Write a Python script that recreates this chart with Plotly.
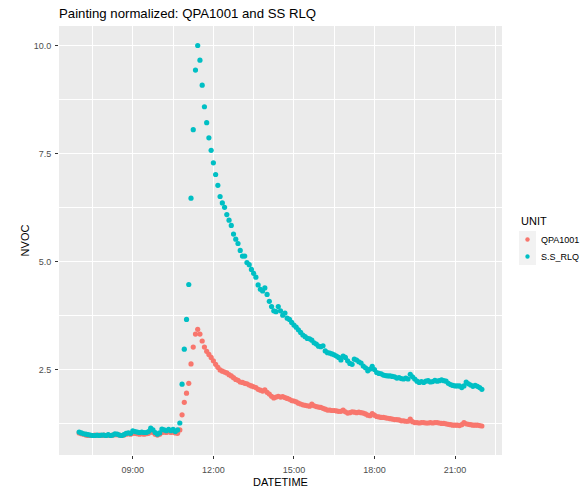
import pandas as pd
import plotly.graph_objects as go

# ---- data (5-minute readings, 07:00 .. 22:00) ----
start_time = "2016-01-01 07:00"
n_points = 181
times = pd.date_range(start_time, periods=n_points, freq="5min")

qpa1001 = [
    # 07:00 - 07:55
    1.03, 1.01, 1.00, 0.98, 0.97, 0.97, 0.97, 0.98, 0.97, 0.98, 0.97, 0.98,
    # 08:00 - 08:55
    0.97, 0.98, 0.97, 0.98, 0.99, 0.99, 0.98, 0.97, 0.98, 1.00, 1.01, 1.00,
    # 09:00 - 09:55
    1.02, 1.02, 1.01, 1.00, 1.01, 1.00, 1.01, 1.02, 1.06, 1.04, 1.00, 0.98,
    # 10:00 - 10:55
    1.00, 1.04, 1.05, 1.04, 1.06, 1.04, 1.05, 1.03, 1.02, 1.10, 1.45, 1.74,
    # 11:00 - 11:55
    1.95, 2.18, 2.63, 3.02, 3.32, 3.43, 3.32, 3.16, 3.02, 2.92, 2.85, 2.78,
    # 12:00 - 12:55
    2.70, 2.62, 2.55, 2.49, 2.46, 2.44, 2.42, 2.38, 2.35, 2.31, 2.27, 2.25,
    # 13:00 - 13:55
    2.21, 2.20, 2.18, 2.17, 2.14, 2.12, 2.10, 2.08, 2.04, 2.02, 2.00, 2.03,
    # 14:00 - 14:55
    1.97, 1.93, 1.88, 1.84, 1.86, 1.88, 1.86, 1.87, 1.85, 1.83, 1.81, 1.78,
    # 15:00 - 15:55
    1.77, 1.75, 1.72, 1.70, 1.68, 1.67, 1.66, 1.65, 1.70, 1.66, 1.64, 1.63,
    # 16:00 - 16:55
    1.62, 1.60, 1.58, 1.56, 1.56, 1.55, 1.55, 1.54, 1.53, 1.53, 1.56, 1.52,
    # 17:00 - 17:55
    1.49, 1.50, 1.52, 1.51, 1.50, 1.51, 1.50, 1.49, 1.47, 1.44, 1.43, 1.48,
    # 18:00 - 18:55
    1.44, 1.41, 1.40, 1.39, 1.39, 1.38, 1.37, 1.36, 1.35, 1.34, 1.34, 1.33,
    # 19:00 - 19:55
    1.31, 1.31, 1.30, 1.30, 1.35, 1.29, 1.27, 1.27, 1.26, 1.27, 1.27, 1.26,
    # 20:00 - 20:55
    1.26, 1.27, 1.26, 1.27, 1.27, 1.26, 1.25, 1.25, 1.24, 1.23, 1.22, 1.21,
    # 21:00 - 21:55
    1.21, 1.21, 1.20, 1.22, 1.27, 1.24, 1.23, 1.22, 1.21, 1.21, 1.21, 1.20,
    # 22:00
    1.19,
]

ss_rlq = [
    # 07:00 - 07:55
    1.05, 1.03, 1.01, 1.00, 0.99, 0.98, 0.97, 0.97, 0.98, 0.97, 0.98, 0.98,
    # 08:00 - 08:55
    0.97, 0.99, 0.97, 0.98, 1.01, 1.00, 0.98, 0.97, 0.99, 1.02, 1.03, 1.02,
    # 09:00 - 09:55
    1.08, 1.06, 1.05, 1.04, 1.05, 1.04, 1.04, 1.06, 1.14, 1.10, 1.04, 1.00,
    # 10:00 - 10:55
    1.03, 1.12, 1.10, 1.08, 1.11, 1.08, 1.11, 1.06, 1.10, 1.26, 2.16, 2.97,
    # 11:00 - 11:55
    3.66, 4.47, 6.47, 8.06, 9.44, 10.01, 9.67, 9.09, 8.59, 8.22, 7.87, 7.58,
    # 12:00 - 12:55
    7.29, 7.02, 6.77, 6.51, 6.36, 6.26, 6.09, 5.96, 5.84, 5.64, 5.52, 5.42,
    # 13:00 - 13:55
    5.26, 5.13, 5.13, 4.98, 4.93, 4.82, 4.73, 4.64, 4.46, 4.36, 4.32, 4.39,
    # 14:00 - 14:55
    4.24, 4.08, 3.96, 3.86, 3.84, 3.96, 3.86, 3.76, 3.81, 3.69, 3.66, 3.59,
    # 15:00 - 15:55
    3.53, 3.48, 3.42, 3.36, 3.30, 3.26, 3.22, 3.21, 3.18, 3.12, 3.09, 3.04,
    # 16:00 - 16:55
    3.03, 3.05, 2.93, 2.89, 2.88, 2.86, 2.84, 2.81, 2.78, 2.72, 2.81, 2.78,
    # 17:00 - 17:55
    2.70, 2.64, 2.62, 2.74, 2.72, 2.68, 2.65, 2.58, 2.54, 2.47, 2.51, 2.57,
    # 18:00 - 18:55
    2.50, 2.43, 2.41, 2.40, 2.37, 2.36, 2.35, 2.35, 2.34, 2.33, 2.30, 2.31,
    # 19:00 - 19:55
    2.29, 2.28, 2.30, 2.28, 2.39, 2.33, 2.28, 2.23, 2.20, 2.22, 2.20, 2.23,
    # 20:00 - 20:55
    2.24, 2.21, 2.22, 2.25, 2.23, 2.24, 2.26, 2.24, 2.23, 2.18, 2.15, 2.13,
    # 21:00 - 21:55
    2.12, 2.12, 2.12, 2.08, 2.12, 2.21, 2.17, 2.14, 2.11, 2.13, 2.11, 2.08,
    # 22:00
    2.04,
]

series_names = ["QPA1001", "S.S_RLQ"]
series_colors = ["#F8766D", "#00BFC4"]
series_values = [qpa1001, ss_rlq]

y_ticks = [2.5, 5.0, 7.5, 10.0]
y_tick_labels = ["2.5", "5.0", "7.5", "10.0"]
x_tick_hours = ["09:00", "12:00", "15:00", "18:00", "21:00"]

# ---- figure geometry (pixels) ----
W, H = 583, 488
ML, MR, MT, MB = 59, 81, 26, 33
PW, PH = W - ML - MR, H - MT - MB


def px_to_paper(px, py):
    return (px - ML) / PW, (H - MB - py) / PH


# ---- ggplot-style expanded ranges (5%) ----
all_vals = qpa1001 + ss_rlq
ymin, ymax = min(all_vals), max(all_vals)
ypad = (ymax - ymin) * 0.05
t0, t1 = times[0], times[-1]
tpad = (t1 - t0) * 0.05

fig = go.Figure()
for name, color, vals in zip(series_names, series_colors, series_values):
    fig.add_trace(go.Scatter(
        x=times, y=vals, mode="markers", name=name, showlegend=False,
        marker=dict(color=color, size=5.2, line=dict(width=0)),
    ))

# ---- ggplot-like legend drawn in paper space ----
shapes = []
annotations = []
lx, ly = px_to_paper(519, 221)
annotations.append(dict(text="UNIT", x=lx, y=ly, xref="paper", yref="paper",
                        xanchor="left", yanchor="middle", showarrow=False,
                        font=dict(size=11, color="#000000")))
key_left, key_size, key_top = 519, 17, 231
for i, (name, color) in enumerate(zip(series_names, series_colors)):
    top = key_top + i * key_size
    x0, y1 = px_to_paper(key_left, top)
    x1, y0 = px_to_paper(key_left + key_size, top + key_size)
    shapes.append(dict(type="rect", xref="paper", yref="paper",
                       x0=x0, x1=x1, y0=y0, y1=y1,
                       fillcolor="#F2F2F2", line=dict(width=0), layer="above"))
    cx, cy = key_left + key_size / 2, top + key_size / 2
    r = 2.2
    cx0, cy1 = px_to_paper(cx - r, cy - r)
    cx1, cy0 = px_to_paper(cx + r, cy + r)
    shapes.append(dict(type="circle", xref="paper", yref="paper",
                       x0=cx0, x1=cx1, y0=cy0, y1=cy1,
                       fillcolor=color, line=dict(width=0), layer="above"))
    tx, ty = px_to_paper(key_left + key_size + 3, cy)
    annotations.append(dict(text=name, x=tx, y=ty, xref="paper", yref="paper",
                            xanchor="left", yanchor="middle", showarrow=False,
                            font=dict(size=9, color="#000000")))

x_tickvals = [pd.Timestamp(f"2016-01-01 {h}") for h in x_tick_hours]

fig.update_layout(
    width=W, height=H,
    margin=dict(l=ML, r=MR, t=MT, b=MB, autoexpand=False),
    paper_bgcolor="white",
    plot_bgcolor="#EBEBEB",
    font=dict(family="Liberation Sans, Arial, sans-serif", color="#000000"),
    title=dict(text="Painting normalized: QPA1001 and SS RLQ",
               x=ML / W, xanchor="left", y=1 - 13 / H, yanchor="middle",
               font=dict(size=13.2, color="#000000")),
    showlegend=False,
    shapes=shapes,
    annotations=annotations,
)

fig.update_xaxes(
    automargin=False,
    range=[t0 - tpad, t1 + tpad],
    tickmode="array", tickvals=x_tickvals, ticktext=x_tick_hours,
    showgrid=True, gridcolor="white", gridwidth=1.1,
    minor=dict(showgrid=True, gridcolor="white", gridwidth=0.5,
               dtick=5400000, tick0="2016-01-01 07:30", ticks=""),
    ticks="outside", ticklen=3, tickcolor="#333333", tickwidth=1,
    ticklabelstandoff=3,
    tickfont=dict(size=9, color="#4D4D4D"),
    showline=False, zeroline=False,
    title=dict(text="DATETIME", font=dict(size=11, color="#000000"), standoff=7),
)
fig.update_yaxes(
    automargin=False,
    range=[ymin - ypad, ymax + ypad],
    tickmode="array", tickvals=y_ticks, ticktext=y_tick_labels,
    showgrid=True, gridcolor="white", gridwidth=1.1,
    minor=dict(showgrid=True, gridcolor="white", gridwidth=0.5,
               dtick=1.25, tick0=0, ticks=""),
    ticks="outside", ticklen=3, tickcolor="#333333", tickwidth=1,
    ticklabelstandoff=2,
    tickfont=dict(size=9, color="#4D4D4D"),
    showline=False, zeroline=False,
    title=dict(text="NVOC", font=dict(size=11, color="#000000"), standoff=1),
)

fig.write_html("out.html")
